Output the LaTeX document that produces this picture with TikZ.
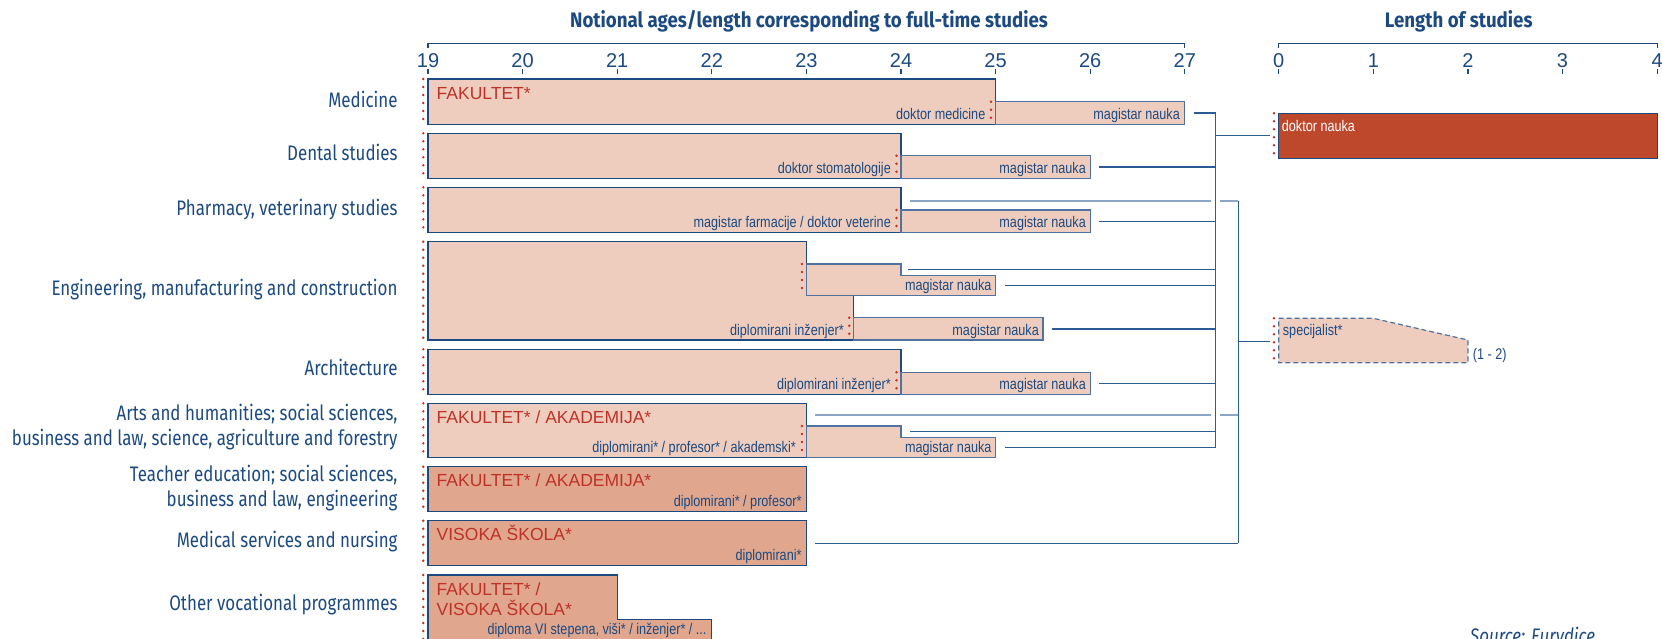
\documentclass[tikz,border=0pt]{standalone}
\usepackage{fontspec}
\setmainfont{Liberation Sans}
\newfontfamily\narrowfont[FakeStretch=0.82]{Liberation Sans}
\newfontfamily\labelfont[FakeStretch=0.805]{Fira Sans}
\newfontfamily\headfont[FakeStretch=0.89]{Fira Sans}
\usetikzlibrary{positioning}
\definecolor{edublue}{HTML}{1C4A80}
\definecolor{magedge}{HTML}{4F72A0}
\definecolor{linkblue}{HTML}{2E5B93}
\definecolor{paleblue}{HTML}{8EA6C6}
\definecolor{peach}{HTML}{EECDBE}
\definecolor{salmon}{HTML}{E0A68E}
\definecolor{brick}{HTML}{BD482B}
\definecolor{redtext}{HTML}{BE3228}
\tikzset{
	mainbox/.style = {rectangle, draw=edublue, fill=peach, line width=1.2pt, anchor=north west, inner sep=0pt, outer sep=0pt},
	magbox/.style = {mainbox, draw=magedge},
	darkbox/.style = {mainbox, fill=salmon},
	stepshape/.style = {draw=edublue, fill=peach, line width=1.2pt},
	degree/.style = {font=\narrowfont\fontsize{15.4}{17}\selectfont, text=edublue, inner sep=0pt, anchor=base east},
	school/.style = {font=\fontsize{17.5}{20}\selectfont, text=redtext, inner sep=0pt, anchor=base west},
	field/.style = {font=\labelfont\fontsize{21}{25}\selectfont, text=edublue, align=right, anchor=east, inner sep=0pt},
	heading/.style = {font=\headfont\bfseries\fontsize{21}{25}\selectfont, text=edublue, inner sep=0pt},
	tick/.style = {font=\fontsize{20}{22}\selectfont, text=edublue, inner sep=0pt, anchor=base},
	axis/.style = {draw=edublue, line width=1.2pt},
	startdots/.style = {draw=redtext, line width=2.7pt, line cap=round, dash pattern=on 0pt off 8pt},
	link/.style = {draw=linkblue, line width=1.3pt},
	palelink/.style = {draw=paleblue, line width=1.6pt}
}

\begin{document}
\begin{tikzpicture}[x=1pt, y=-1pt]
	\clip (0,0) rectangle (1662,638);

	% Headings and scales
	\node[heading] (agetitle) at (809,21) {Notional ages/length corresponding to full-time studies};
	\node[heading] (lentitle) at (1458.7,21) {Length of studies};
	\draw[axis] (428,48) -- (428,43.3) -- (1184.8,43.3) -- (1184.8,48);
	\draw[axis] (1278.7,48) -- (1278.7,43.3) -- (1657.1,43.3) -- (1657.1,48);
	\foreach \age [count=\i from 0] in {19,...,27} {
		\node[tick] (age\age) at ({428+\i*94.6},67.5) {\age};
		\draw[axis] ({428+\i*94.6},69) -- ++(0,5);
	}
	\foreach \yr in {0,...,4} {
		\node[tick] (len\yr) at ({1278.7+\yr*94.6},67.5) {\yr};
		\draw[axis] ({1278.7+\yr*94.6},69) -- ++(0,5);
	}

	% Fields of study
	\node[field, anchor=base east] (fmed) at (397.7,107.7) {Medicine};
	\node[field, anchor=base east] (fden) at (397.7,160.7) {Dental studies};
	\node[field, anchor=base east] (fpha) at (397.7,215) {Pharmacy, veterinary studies};
	\node[field, anchor=base east] (feng) at (397.7,295) {Engineering, manufacturing and construction};
	\node[field, anchor=base east] (farc) at (397.7,375) {Architecture};
	\node[field] (fart) at (397.7,427) {Arts and humanities; social sciences,\\business and law, science, agriculture and forestry};
	\node[field] (ftea) at (397.7,488) {Teacher education; social sciences,\\business and law, engineering};
	\node[field, anchor=base east] (fnur) at (397.7,547.7) {Medical services and nursing};
	\node[field, anchor=base east] (foth) at (397.7,610.7) {Other vocational programmes};

	% Programme boxes
	\node[mainbox, minimum width=567.6pt, minimum height=45.3pt] (med) at (428,79) {};
	\node[magbox, minimum width=189.2pt, minimum height=22.6pt] (medmag) at (995.6,101.7) {};
	\node[mainbox, minimum width=473pt, minimum height=45pt] (den) at (428,133.3) {};
	\node[magbox, minimum width=189.2pt, minimum height=22.6pt] (denmag) at (901,155.7) {};
	\node[mainbox, minimum width=473pt, minimum height=45pt] (pha) at (428,187.3) {};
	\node[magbox, minimum width=189.2pt, minimum height=22.3pt] (phamag) at (901,210) {};
	\filldraw[stepshape] (428,241.7) -- (806.4,241.7) -- (806.4,295.7) -- (853.7,295.7) -- (853.7,340) -- (428,340) -- cycle;
	\filldraw[stepshape, draw=magedge] (806.4,264) -- (901,264) -- (901,275.7) -- (995.6,275.7) -- (995.6,295.7) -- (806.4,295.7) -- cycle;
	\node[magbox, minimum width=189.2pt, minimum height=22.3pt] (engmag) at (853.7,317.7) {};
	\node[mainbox, minimum width=473pt, minimum height=45pt] (arc) at (428,349.3) {};
	\node[magbox, minimum width=189.2pt, minimum height=22pt] (arcmag) at (901,372.3) {};
	\node[mainbox, minimum width=378.4pt, minimum height=54pt] (art) at (428,403.3) {};
	\filldraw[stepshape, draw=magedge] (806.4,426) -- (901,426) -- (901,437.7) -- (995.6,437.7) -- (995.6,457.3) -- (806.4,457.3) -- cycle;
	\node[darkbox, minimum width=378.4pt, minimum height=45pt] (tea) at (428,466.7) {};
	\node[darkbox, minimum width=378.4pt, minimum height=45pt] (nur) at (428,520.7) {};
	\filldraw[stepshape, fill=salmon] (428,575) -- (617.2,575) -- (617.2,619.3) -- (711.8,619.3) -- (711.8,650) -- (428,650) -- cycle;
	\node[mainbox, fill=brick, minimum width=378.4pt, minimum height=45pt] (dok) at (1278.7,113.3) {};
	\filldraw[stepshape, draw=magedge, dash pattern=on 5pt off 3pt] (1278.7,318.3) -- (1373.3,318.3) -- (1467.9,340) -- (1467.9,362.7) -- (1278.7,362.7) -- cycle;

	% Named points on the stepped shapes
	\coordinate (phaup) at (901,200.7);
	\coordinate (engup) at (901,269.8);
	\coordinate (engmid) at (995.6,285.7);
	\coordinate (artup) at (806.4,414.7);
	\coordinate (artstep) at (901,431.8);
	\coordinate (artmid) at (995.6,447.5);
	\coordinate (spec) at (1278.7,341.5);
	\coordinate (bus1) at (1215.7,0);
	\coordinate (bus2) at (1238.3,0);

	% Texts in the boxes
	\node[school] (smed) at (436.5,99) {FAKULTET*};
	\node[degree] (dmed) at (985.5,119.3) {doktor medicine};
	\node[degree] (mmed) at (1180,119.3) {magistar nauka};
	\node[degree] (dden) at (891,173.3) {doktor stomatologije};
	\node[degree] (mden) at (1086,173.3) {magistar nauka};
	\node[degree] (dpha) at (891,227.3) {magistar farmacije / doktor veterine};
	\node[degree] (mpha) at (1086,227.3) {magistar nauka};
	\node[degree] (meng) at (991.6,290.7) {magistar nauka};
	\node[degree] (deng) at (844,335) {diplomirani inženjer*};
	\node[degree] (meng2) at (1039,335) {magistar nauka};
	\node[degree] (darc) at (891,389.3) {diplomirani inženjer*};
	\node[degree] (marc) at (1086,389.3) {magistar nauka};
	\node[school] (sart) at (436.5,423.3) {FAKULTET* / AKADEMIJA*};
	\node[degree] (dart) at (796,452.3) {diplomirani* / profesor* / akademski*};
	\node[degree] (mart) at (991.6,452.3) {magistar nauka};
	\node[school] (stea) at (436.5,486.7) {FAKULTET* / AKADEMIJA*};
	\node[degree] (dtea) at (801.7,506.7) {diplomirani* / profesor*};
	\node[school] (snur) at (436.5,540.7) {VISOKA ŠKOLA*};
	\node[degree] (dnur) at (801.7,560.7) {diplomirani*};
	\node[school] (soth) at (436.5,595.7) {FAKULTET* /};
	\node[school] (soth2) at (436.5,615.7) {VISOKA ŠKOLA*};
	\node[degree] (doth) at (706.7,634.3) {diploma VI stepena, viši* / inženjer* / ...};
	\node[degree, anchor=base west, text=white] (ddok) at (1281.7,131) {doktor nauka};
	\node[degree, anchor=base west] (dspec) at (1282.7,335) {specijalist*};
	\node[degree, anchor=base west] (lspec) at (1472.7,359) {(1 - 2)};

	% Dotted starts
	\foreach \top/\bot in {79/124.3, 133.3/178.3, 187.3/232.3, 241.7/340, 349.3/394.3, 403.3/457.3, 466.7/511.7, 520.7/565.7, 575/640}
		\draw[startdots] (423.3,\top) -- (423.3,\bot);
	\foreach \x/\top/\bot in {991/101.7/124.3, 896.5/155.7/178.3, 896.5/210/232.3, 802/264/295.7, 849.2/317.7/340, 896.5/372.3/394.3, 802/426/457.3, 1274/113.3/158.3, 1274/318.3/362.7}
		\draw[startdots] (\x,\top) -- (\x,\bot);

	% Connectors
	\coordinate (phacross) at (phaup -| bus1);
	\coordinate (artcross) at (artup -| bus1);
	\draw[palelink] ([xshift=9pt]phaup) -- ([xshift=-4.5pt]phacross);
	\draw[palelink] ([xshift=4.5pt]phacross) -- (phaup -| bus2);
	\draw[palelink] ([xshift=9pt]artup) -- ([xshift=-4.5pt]artcross);
	\draw[palelink] ([xshift=4.5pt]artcross) -- (artup -| bus2);
	\draw[link] ([xshift=9pt]medmag.east) -- (medmag.east -| bus1);
	\draw[link] ([xshift=9pt]denmag.east) -- (denmag.east -| bus1);
	\draw[link] ([xshift=9pt]phamag.east) -- (phamag.east -| bus1);
	\draw[link] ([xshift=7pt]engup) -- (engup -| bus1);
	\draw[link] ([xshift=9pt]engmid) -- (engmid -| bus1);
	\draw[link] ([xshift=9pt]engmag.east) -- (engmag.east -| bus1);
	\draw[link] ([xshift=9pt]arcmag.east) -- (arcmag.east -| bus1);
	\draw[link] ([xshift=9pt]artstep) -- (artstep -| bus1);
	\draw[link] ([xshift=9pt]artmid) -- (artmid -| bus1);
	\draw[link] (medmag.east -| bus1) -- (artmid -| bus1);
	\draw[link] (dok.west -| bus1) -- ([xshift=-9pt]dok.west);
	\draw[link] ([xshift=9pt]nur.east) -- (nur.east -| bus2);
	\draw[link] (phaup -| bus2) -- (nur.east -| bus2);
	\draw[link] (spec -| bus2) -- ([xshift=-9pt]spec);

	% Source line, cut by the lower edge
	\node[font=\labelfont\itshape\fontsize{21}{25}\selectfont, text=edublue, inner sep=0pt, anchor=base west] (source) at (1470,643) {Source: Eurydice};
\end{tikzpicture}
\end{document}
